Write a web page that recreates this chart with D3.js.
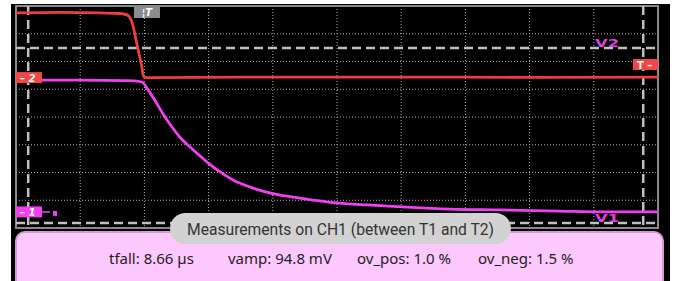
<!DOCTYPE html>
<html>
<head>
<meta charset="utf-8">
<script src="https://d3js.org/d3.v7.min.js"></script>
<style>
body { margin: 0; background: #fff; }
</style>
</head>
<body>
<script>
// trace samples, in divisions (x: 0..10, y: -4..4)
var ch2Time = [0, 0.69, 1.31, 1.62, 1.73, 1.81, 1.88, 1.96, 1.99, 2.09, 3.5, 6.0, 8.0, 10.0];
var ch2Level = [3.75, 3.77, 3.75, 3.73, 3.68, 3.39, 2.67, 1.80, 1.44, 1.42, 1.44, 1.44, 1.43, 1.44];

var ch1Time = [0.39, 1.00, 1.70, 1.85, 1.96, 2.06, 2.17, 2.29, 2.43, 2.55, 2.71, 2.87, 3.01, 3.18, 3.38, 3.64, 4.00, 4.42, 5.02, 5.47, 6.01, 6.76, 7.54, 8.47, 9.10, 10.00];
var ch1Level = [1.33, 1.33, 1.31, 1.30, 1.26, 0.97, 0.58, 0.11, -0.36, -0.72, -1.08, -1.41, -1.69, -1.98, -2.27, -2.52, -2.76, -2.92, -3.10, -3.17, -3.24, -3.32, -3.35, -3.39, -3.42, -3.42];

// cursors and markers
var timeCursors = [0.19, 9.77];
var levelCursors = [-3.82, 2.49];
var levelCursorNames = ["V1", "V2"];
var triggerTime = 2.04;
var triggerLevel = 1.89;
var ch2Ground = 1.42;
var ch1Ground = -3.42;

var measTitle = "Measurements on CH1 (between T1 and T2)";
var measLabels = ["tfall: 8.66 µs", "vamp: 94.8 mV", "ov_pos: 1.0 %", "ov_neg: 1.5 %"];
var measX = [109, 228, 357, 478];

var svg = d3.select("body")
	.append("svg")
	.attr("width", 675)
	.attr("height", 281);

// scope screen
svg.append("rect")
	.attr("x", 11).attr("y", 4)
	.attr("width", 659).attr("height", 277)
	.attr("fill", "#000");

var xScale = d3.scaleLinear().domain([0, 10]).range([16, 658]);
var yScale = d3.scaleLinear().domain([-4, 4]).range([228, 6]);

var g = svg.append("g");

// dotted grid
g.selectAll(".vgrid")
	.data(d3.range(1, 10))
	.enter().append("line")
	.attr("x1", function(d){ return xScale(d); })
	.attr("x2", function(d){ return xScale(d); })
	.attr("y1", yScale(4)).attr("y2", yScale(-4))
	.attr("stroke", "#b0b0b0")
	.attr("stroke-width", 1)
	.attr("stroke-dasharray", "1,2");

g.selectAll(".hgrid")
	.data(d3.range(-3, 4))
	.enter().append("line")
	.attr("y1", function(d){ return yScale(d); })
	.attr("y2", function(d){ return yScale(d); })
	.attr("x1", xScale(0)).attr("x2", xScale(10))
	.attr("stroke", "#b0b0b0")
	.attr("stroke-width", 1)
	.attr("stroke-dasharray", "1,2");

// frame
g.append("rect")
	.attr("x", xScale(0)).attr("y", yScale(4))
	.attr("width", xScale(10) - xScale(0))
	.attr("height", yScale(-4) - yScale(4))
	.attr("fill", "none")
	.attr("stroke", "#8a8a8a")
	.attr("stroke-width", 2);

// cursor lines
g.selectAll(".tcur")
	.data(timeCursors)
	.enter().append("line")
	.attr("x1", function(d){ return xScale(d); })
	.attr("x2", function(d){ return xScale(d); })
	.attr("y1", yScale(4)).attr("y2", yScale(-4))
	.attr("stroke", "#c0c0c0")
	.attr("stroke-width", 2.5)
	.attr("stroke-dasharray", "9,5");

g.selectAll(".vcur")
	.data(levelCursors)
	.enter().append("line")
	.attr("y1", function(d){ return yScale(d); })
	.attr("y2", function(d){ return yScale(d); })
	.attr("x1", xScale(0)).attr("x2", xScale(10))
	.attr("stroke", "#c0c0c0")
	.attr("stroke-width", 2.5)
	.attr("stroke-dasharray", "9,5");

// cursor names
g.selectAll(".vname")
	.data(levelCursors)
	.enter().append("text")
	.attr("x", 595)
	.attr("y", function(d){ return yScale(d) - 1; })
	.attr("font-family", "DejaVu Sans")
	.attr("font-size", 10)
	.attr("font-weight", "bold")
	.attr("fill", "#e040e0")
	.attr("textLength", 24)
	.attr("lengthAdjust", "spacingAndGlyphs")
	.text(function(d, i){ return levelCursorNames[i]; });

// traces
var line = d3.line()
	.x(function(d){ return xScale(d[0]); })
	.y(function(d){ return yScale(d[1]); })
	.curve(d3.curveMonotoneX);

g.append("path")
	.datum(d3.zip(ch2Time, ch2Level))
	.attr("d", line)
	.attr("fill", "none")
	.attr("stroke", "#f23c3c")
	.attr("stroke-width", 2.8);

g.append("path")
	.datum(d3.zip(ch1Time, ch1Level))
	.attr("d", line)
	.attr("fill", "none")
	.attr("stroke", "#f040f0")
	.attr("stroke-width", 2.8);

// channel ground markers
g.append("rect")
	.attr("x", 16).attr("y", yScale(ch2Ground) - 5.5)
	.attr("width", 26).attr("height", 11)
	.attr("fill", "#f04848");
g.append("text")
	.attr("x", 20).attr("y", yScale(ch2Ground) + 4)
	.attr("font-family", "DejaVu Sans")
	.attr("font-size", 10).attr("font-weight", "bold").attr("font-style", "italic")
	.attr("fill", "#fff")
	.text("– 2");

g.append("rect")
	.attr("x", 16).attr("y", yScale(ch1Ground) - 5.5)
	.attr("width", 26).attr("height", 11)
	.attr("fill", "#f040f0");
g.append("line")
	.attr("x1", 42).attr("x2", 50)
	.attr("y1", yScale(ch1Ground)).attr("y2", yScale(ch1Ground))
	.attr("stroke", "#f040f0").attr("stroke-width", 1.5);
g.append("rect")
	.attr("x", 53).attr("y", yScale(ch1Ground) - 1)
	.attr("width", 4).attr("height", 5)
	.attr("fill", "#f040f0");
g.append("text")
	.attr("x", 20).attr("y", yScale(ch1Ground) + 4)
	.attr("font-family", "DejaVu Sans")
	.attr("font-size", 10).attr("font-weight", "bold").attr("font-style", "italic")
	.attr("fill", "#fff")
	.text("– 1");

// trigger position marker (top)
g.append("rect")
	.attr("x", xScale(triggerTime) - 13).attr("y", 7)
	.attr("width", 26).attr("height", 11)
	.attr("fill", "#8c8c8c");
g.append("text")
	.attr("x", xScale(triggerTime)).attr("y", 16)
	.attr("text-anchor", "middle")
	.attr("font-family", "DejaVu Sans")
	.attr("font-size", 10).attr("font-weight", "bold").attr("font-style", "italic")
	.attr("fill", "#fff")
	.text("¦T");

// trigger level marker (right)
g.append("rect")
	.attr("x", 633).attr("y", yScale(triggerLevel) - 5.5)
	.attr("width", 25).attr("height", 11)
	.attr("fill", "#f04848");
g.append("text")
	.attr("x", 637).attr("y", yScale(triggerLevel) + 4)
	.attr("font-family", "DejaVu Sans")
	.attr("font-size", 10).attr("font-weight", "bold")
	.attr("fill", "#fff")
	.text("T –");

// measurement panel
svg.append("rect")
	.attr("x", 16).attr("y", 232)
	.attr("width", 647).attr("height", 70)
	.attr("rx", 9)
	.attr("fill", "#fdc8fd")
	.attr("stroke", "#d898d4")
	.attr("stroke-width", 2);

svg.append("rect")
	.attr("x", 170).attr("y", 213)
	.attr("width", 341).attr("height", 31)
	.attr("rx", 15.5)
	.attr("fill", "#d2d2d2");

svg.append("text")
	.attr("x", 340.5).attr("y", 235)
	.attr("text-anchor", "middle")
	.attr("font-family", "Roboto")
	.attr("font-size", 17)
	.attr("fill", "#333")
	.attr("textLength", 307)
	.attr("lengthAdjust", "spacingAndGlyphs")
	.text(measTitle);

svg.selectAll(".meas")
	.data(measLabels)
	.enter().append("text")
	.attr("x", function(d, i){ return measX[i]; })
	.attr("y", 264)
	.attr("font-family", "Noto Sans")
	.attr("font-size", 15)
	.attr("fill", "#222")
	.text(function(d){ return d; });
</script>
</body>
</html>
